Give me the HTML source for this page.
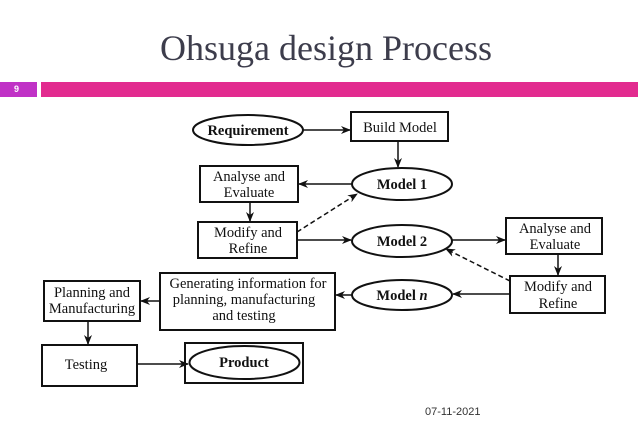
<!DOCTYPE html>
<html><head><meta charset="utf-8"><style>
body{margin:0;width:638px;height:442px;background:#fff;overflow:hidden;position:relative;font-family:"Liberation Serif",serif}
.t{position:absolute;left:0;width:652px;top:27px;text-align:center;font-size:36px;color:#3d3d4c}
.num{position:absolute;left:0;top:82px;width:37px;height:15px;background:#c032c6;color:#fff;font:bold 9px "Liberation Sans",sans-serif;line-height:15px;padding-left:14px;box-sizing:border-box}
.bar{position:absolute;left:41px;top:82px;right:0;height:15px;background:#e22b8f}
.d{position:absolute;left:425px;top:406px;font:11px "Liberation Sans",sans-serif;color:#333}
svg{position:absolute;left:0;top:0}
text{font-family:"Liberation Serif",serif;font-size:14.5px;fill:#111}
.b{font-weight:bold}
</style></head><body>
<div class="t">Ohsuga design Process</div>
<div class="num">9</div><div class="bar"></div>
<svg width="638" height="442">
<defs><marker id="a" markerWidth="10" markerHeight="8" refX="9" refY="4" orient="auto" markerUnits="userSpaceOnUse"><path d="M0,0 L10,4 L0,8 L3,4z" fill="#111"/></marker></defs>
<g fill="none" stroke="#111" stroke-width="2">
<ellipse cx="248" cy="130" rx="55" ry="15"/>
<rect x="351" y="112" width="97" height="29"/>
<ellipse cx="402" cy="184" rx="50" ry="16"/>
<rect x="200" y="166" width="98" height="36"/>
<rect x="198" y="222" width="99" height="36"/>
<ellipse cx="402" cy="241" rx="50" ry="16"/>
<rect x="506" y="218" width="96" height="36"/>
<rect x="510" y="276" width="95" height="37"/>
<ellipse cx="402" cy="295" rx="50" ry="15"/>
<rect x="160" y="273" width="175" height="57"/>
<rect x="44" y="281" width="96" height="40"/>
<rect x="42" y="345" width="95" height="41"/>
<rect x="185" y="343" width="118" height="40"/>
<ellipse cx="244.5" cy="362.5" rx="55" ry="16.5"/>
</g>
<g stroke="#111" stroke-width="1.5" fill="none" marker-end="url(#a)">
<line x1="303" y1="130" x2="350" y2="130"/>
<line x1="398" y1="141" x2="398" y2="167"/>
<line x1="352" y1="184" x2="299" y2="184"/>
<line x1="250" y1="202" x2="250" y2="221"/>
<line x1="297" y1="232" x2="357" y2="194" stroke-dasharray="5,3"/>
<line x1="297" y1="240" x2="351" y2="240"/>
<line x1="452" y1="240" x2="505" y2="240"/>
<line x1="558" y1="254" x2="558" y2="275"/>
<line x1="510" y1="281" x2="446" y2="249" stroke-dasharray="5,3"/>
<line x1="510" y1="294" x2="453" y2="294"/>
<line x1="352" y1="295" x2="336" y2="295"/>
<line x1="160" y1="301" x2="141" y2="301"/>
<line x1="88" y1="321" x2="88" y2="344"/>
<line x1="137" y1="364" x2="188" y2="364"/>
</g>
<text class="b" x="248" y="135" text-anchor="middle">Requirement</text>
<text x="400" y="132" text-anchor="middle">Build Model</text>
<text class="b" x="402" y="189" text-anchor="middle">Model 1</text>
<text x="249" y="181" text-anchor="middle">Analyse and</text>
<text x="249" y="197" text-anchor="middle">Evaluate</text>
<text x="248" y="237" text-anchor="middle">Modify and</text>
<text x="248" y="253" text-anchor="middle">Refine</text>
<text class="b" x="402" y="246" text-anchor="middle">Model 2</text>
<text x="555" y="233" text-anchor="middle">Analyse and</text>
<text x="555" y="249" text-anchor="middle">Evaluate</text>
<text x="558" y="291" text-anchor="middle">Modify and</text>
<text x="558" y="308" text-anchor="middle">Refine</text>
<text class="b" x="402" y="300" text-anchor="middle">Model <tspan font-style="italic">n</tspan></text>
<text x="248" y="288" text-anchor="middle">Generating information for</text>
<text x="244" y="304" text-anchor="middle">planning, manufacturing</text>
<text x="244" y="320" text-anchor="middle">and testing</text>
<text x="92" y="297" text-anchor="middle">Planning and</text>
<text x="92" y="313" text-anchor="middle">Manufacturing</text>
<text x="86" y="369" text-anchor="middle">Testing</text>
<text class="b" x="244" y="367" text-anchor="middle">Product</text>
</svg>
<div class="d">07-11-2021</div>
</body></html>
